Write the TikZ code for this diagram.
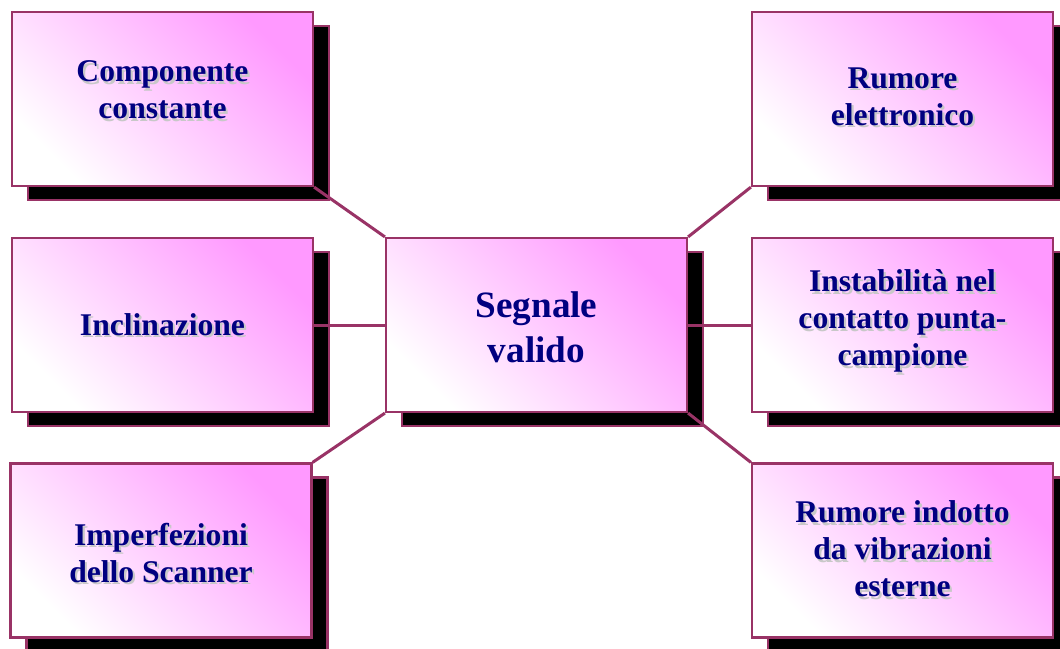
\documentclass[tikz,border=0pt]{standalone}
\usepackage{fontspec}
\setmainfont{Liberation Serif}
\usetikzlibrary{shadows}
\definecolor{bordc}{HTML}{993366}
\definecolor{pinkc}{HTML}{FF99FF}
\definecolor{navyc}{HTML}{000080}
\definecolor{shgray}{HTML}{C8C8C8}
\newcommand\tabc[1]{\begin{tabular}{@{}c@{}}#1\end{tabular}}
\newcommand\ctxt[2][0pt]{\raisebox{#1}[\height][\depth]{\makebox[0pt][l]{\hspace{2.2pt}\raisebox{-2.2pt}{\color{shgray}\tabc{#2}}}\tabc{#2}}}
\newcommand\ptxt[2][0pt]{\raisebox{#1}[\height][\depth]{\tabc{#2}}}
\tikzset{
  box/.style={rectangle, minimum width=301pt, minimum height=174pt, inner sep=0pt,
    draw=bordc, line width=2.2pt, shading=axis, top color=pinkc, bottom color=white,
    shading angle=-45,
    general shadow={fill=black, draw=bordc, line width=2.2pt, shadow xshift=16pt, shadow yshift=-14pt},
    text=navyc, font=\fontsize{31.6}{37}\selectfont\bfseries},
  conn/.style={draw=bordc, line width=3pt}
}
\begin{document}
\begin{tikzpicture}[x=1pt,y=-1pt]
\clip (0,0) rectangle (1060,648);
\useasboundingbox (0,0) rectangle (1060,648);
\node[box] (tl) at (162.5,99) {\ctxt[5pt]{Componente\\constante}};
\node[box] (ml) at (162.5,325) {\ctxt[-4pt]{Inclinazione}};
\node[box] (bl) at (161,550.5) {\ctxt[-7pt]{Imperfezioni\\dello Scanner}};
\node[box, font=\fontsize{37.2}{45}\selectfont\bfseries] (c) at (536.5,325) {\ptxt[-6pt]{Segnale\\valido}};
\node[box] (tr) at (902.5,99) {\ctxt[-1.5pt]{Rumore\\elettronico}};
\node[box] (mr) at (902.5,325) {\ctxt[2.5pt]{Instabilità nel\\contatto punta-\\campione}};
\node[box] (br) at (902.5,550.5) {\ctxt[-3pt]{Rumore indotto\\da vibrazioni\\esterne}};
\draw[conn] (tl.south east) -- (c.north west);
\draw[conn] (ml.east) -- (c.west);
\draw[conn] (bl.north east) -- (c.south west);
\draw[conn] (tr.south west) -- (c.north east);
\draw[conn] (mr.west) -- (c.east);
\draw[conn] (br.north west) -- (c.south east);
\end{tikzpicture}
\end{document}
